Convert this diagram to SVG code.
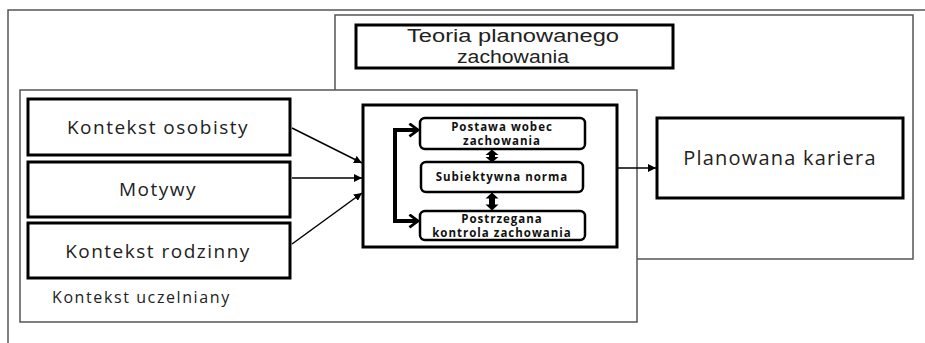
<svg xmlns="http://www.w3.org/2000/svg" width="925" height="343" viewBox="0 0 925 343">
<defs>
<style>
.frame{fill:none;stroke:#555;stroke-width:1.5}
.box{fill:#fff;stroke:#000;stroke-width:3}
.ibox{fill:#fff;stroke:#000;stroke-width:2.5}
.t{font-family:"Open Sans","DejaVu Sans",sans-serif;fill:#222;text-anchor:middle}
.title{font-family:"Liberation Sans",Arial,sans-serif;font-size:17.5px;fill:#222;text-anchor:middle}
.big{font-size:19px;letter-spacing:1.5px}
.small{font-size:11.5px;font-weight:bold;fill:#111;letter-spacing:1px}
.conn{stroke:#000;stroke-width:1.5;fill:none}
.thick{stroke:#000;stroke-width:4;fill:none}
.dbl{fill:#000}
</style>
<marker id="ah" viewBox="0 0 10 10" refX="10" refY="5" markerWidth="8" markerHeight="8" markerUnits="userSpaceOnUse" orient="auto">
<path d="M0,0 L10,5 L0,10 z" fill="#000"/>
</marker>
<marker id="chev" viewBox="0 0 10 14" refX="9" refY="7" markerWidth="11" markerHeight="15" markerUnits="userSpaceOnUse" orient="auto-start-reverse">
<path d="M1,1 L9,7 L1,13" fill="none" stroke="#000" stroke-width="2.6"/>
</marker>
</defs>
<rect width="925" height="343" fill="#fff"/>

<g id="outer-frame">
<path class="frame" d="M8,343 L8,10 L925,10"/>
</g>

<g id="teoria-frame">
<path class="frame" d="M335,90 L335,15 L913,15 L913,259 L637,259"/>
</g>

<g id="kontekst-uczelniany">
<rect class="frame" x="20" y="90" width="617" height="232"/>
<text class="t" x="52" y="303" style="font-size:16px;text-anchor:start;letter-spacing:1.6px">Kontekst uczelniany</text>
</g>

<g id="teoria-title">
<rect class="box" x="356" y="25" width="317" height="43" stroke-width="2.5"/>
<text class="title" x="513" y="42" textLength="212" lengthAdjust="spacingAndGlyphs">Teoria planowanego</text>
<text class="title" x="513" y="63" textLength="112" lengthAdjust="spacingAndGlyphs">zachowania</text>
</g>

<g id="kontekst-osobisty">
<rect class="box" x="28" y="99" width="262" height="56"/>
<text class="t big" x="158" y="134">Kontekst osobisty</text>
</g>

<g id="motywy">
<rect class="box" x="28" y="162" width="262" height="55"/>
<text class="t big" x="158" y="196">Motywy</text>
</g>

<g id="kontekst-rodzinny">
<rect class="box" x="28" y="223" width="262" height="55"/>
<text class="t big" x="158" y="258">Kontekst rodzinny</text>
</g>

<g id="tpb-box">
<rect class="box" x="363" y="105" width="254" height="142"/>
</g>

<g id="postawa">
<rect class="ibox" x="420" y="118" width="165" height="31" rx="5"/>
<text class="t small" x="502" y="131">Postawa wobec</text>
<text class="t small" x="502" y="145">zachowania</text>
</g>

<g id="subiektywna">
<rect class="ibox" x="421" y="162" width="162" height="30" rx="5"/>
<text class="t small" x="502" y="181">Subiektywna norma</text>
</g>

<g id="postrzegana">
<rect class="ibox" x="420" y="211" width="165" height="29" rx="5"/>
<text class="t small" x="502" y="223">Postrzegana</text>
<text class="t small" x="502" y="237">kontrola zachowania</text>
</g>

<g id="planowana-kariera">
<rect class="box" x="657" y="118" width="246" height="80"/>
<text class="t" x="780" y="165" style="font-size:20px;letter-spacing:1.2px">Planowana kariera</text>
</g>

<g id="connectors">
<line class="conn" x1="292" y1="128" x2="362" y2="163" marker-end="url(#ah)"/>
<line class="conn" x1="292" y1="178" x2="362" y2="178" marker-end="url(#ah)"/>
<line class="conn" x1="292" y1="244" x2="362" y2="193" marker-end="url(#ah)"/>
<line class="conn" x1="617" y1="168" x2="656" y2="168" marker-end="url(#ah)"/>
<path class="thick" d="M418,130 L395,130 L395,221 L418,221" marker-start="url(#chev)" marker-end="url(#chev)"/>
<polygon class="dbl" points="492,149.5 498.5,155 495,155 495,157 498.5,157 492,162.5 485.5,157 489,157 489,155 485.5,155"/>
<polygon class="dbl" points="492,192.5 498.5,198.5 495,198.5 495,204.5 498.5,204.5 492,210.5 485.5,204.5 489,204.5 489,198.5 485.5,198.5"/>
</g>
</svg>
